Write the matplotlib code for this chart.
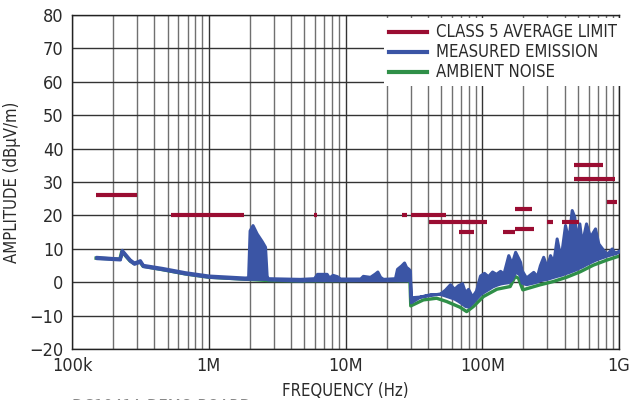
import matplotlib
matplotlib.use("Agg")
import matplotlib.pyplot as plt
from matplotlib.ticker import FixedLocator, NullFormatter
from matplotlib.lines import Line2D

plt.rcParams['font.family'] = ['DejaVu Sans']
plt.rcParams['font.stretch'] = 'condensed'

# ---- data ----
# CISPR class 5 average limit segments: start Hz, stop Hz, level dBuV/m
limit_start = [150e3, 530e3, 5.9e6, 26e6, 30e6, 41e6, 76e6, 68e6, 142e6, 174e6, 174e6, 300e6, 380e6, 470e6, 470e6, 820e6]
limit_stop  = [300e3, 1.8e6, 6.2e6, 28e6, 54e6, 88e6, 108e6, 87e6, 175e6, 241e6, 230e6, 330e6, 512e6, 770e6, 935e6, 960e6]
limit_level = [26, 20, 20, 20, 20, 18, 18, 15, 15, 16, 22, 18, 18, 35, 31, 24]

# measured emission (envelope of the sweep: upper / lower)
meas_freq = [150e3, 224e3, 231e3, 248e3, 265e3, 284e3, 314e3, 330e3, 453e3, 670e3, 1.0e6, 1.84e6,
             1.94e6, 1.99e6, 2.09e6, 2.24e6, 2.44e6, 2.58e6, 2.65e6, 2.7e6,
             4.65e6, 5.89e6, 6.19e6, 7.28e6, 7.57e6, 8.05e6, 8.66e6, 9.12e6, 12.8e6, 13.4e6, 15.1e6,
             16.4e6, 17.1e6, 17.9e6, 18.8e6, 23.0e6, 23.8e6, 25.5e6, 26.8e6, 27.7e6, 28.9e6, 29.6e6,
             30.0e6, 35.1e6, 41.5e6, 49.1e6, 53.5e6, 58.1e6, 62.2e6, 66.5e6, 71.1e6, 74.8e6, 78.7e6,
             84.2e6, 90e6, 96.3e6, 103e6, 110e6, 118e6, 126e6, 135e6, 143e6, 155e6, 164e6, 174e6,
             184e6, 189e6, 194e6, 209e6, 236e6, 251e6, 264e6, 279e6, 296e6, 313e6, 331e6, 350e6,
             366e6, 381e6, 403e6, 426e6, 451e6, 471e6, 491e6, 513e6, 534e6, 574e6, 614e6, 668e6,
             706e6, 768e6, 817e6, 885e6, 935e6, 1000e6]
meas_hi = [7.6, 7.1, 9.7, 8.2, 6.8, 5.9, 6.6, 5.2, 4.3, 3.0, 2.0, 1.4,
           1.5, 15.5, 17.1, 14.6, 12.3, 10.6, 2.0, 1.2,
           1.0, 1.2, 2.5, 2.5, 1.4, 2.2, 1.8, 1.1, 1.1, 1.9, 1.6,
           2.6, 3.2, 1.6, 1.0, 1.2, 4.0, 5.0, 5.9, 4.6, 4.0, 3.5,
           -4.5, -4.3, -3.8, -3.4, -2.2, -0.6, -2.0, -0.9, -0.3, -3.0, -2.0,
           -4.3, -2.5, 2.0, 2.8, 1.8, 3.2, 2.5, 3.4, 2.6, 8.1, 5.6, 9.1,
           7.1, 6.1, 3.6, 1.4, 3.1, 1.8, 5.1, 7.6, 4.6, 8.1, 6.1, 13.1,
           9.1, 9.6, 17.1, 12.6, 21.6, 19.6, 12.6, 17.6, 11.6, 17.6, 13.6, 16.1,
           11.6, 9.6, 8.5, 10.1, 8.6, 9.5]
meas_lo = [7.2, 6.8, 9.2, 7.8, 6.4, 5.5, 6.1, 4.8, 3.9, 2.6, 1.6, 1.0,
           1.0, 1.0, 1.0, 1.0, 1.0, 1.0, 1.0, 0.8,
           0.5, 0.6, 0.6, 0.6, 0.6, 0.6, 0.6, 0.6, 0.6, 0.6, 0.6,
           0.6, 0.6, 0.6, 0.6, 0.6, 0.6, 0.6, 0.6, 0.6, 0.6, 0.6,
           -6.0, -4.3, -3.6, -3.5, -4.0, -4.5, -4.9, -5.6, -6.4, -7.1, -7.3,
           -6.2, -4.9, -3.6, -2.8, -2.1, -1.3, -0.8, -0.4, -0.2, 0.0, 0.9, 3.1,
           2.6, 1.9, -0.1, -0.6, -0.1, 0.2, 0.6, 0.8, 1.0, 1.3, 1.6, 1.9,
           2.1, 2.3, 2.7, 3.0, 3.4, 3.7, 4.0, 4.4, 4.7, 5.4, 6.0, 6.7,
           7.1, 7.6, 8.0, 8.4, 8.8, 9.2]

# ambient noise
amb_freq = [150e3, 224e3, 231e3, 265e3, 284e3, 314e3, 330e3, 453e3, 670e3, 1.0e6, 1.84e6, 2.7e6,
            4.65e6, 10e6, 17e6, 23e6, 29.6e6, 30.0e6, 37.1e6, 46.4e6, 55e6, 68.8e6, 76.9e6, 86e6,
            102e6, 128e6, 160e6, 174e6, 184e6, 198e6, 264e6, 331e6, 415e6, 519e6, 649e6, 812e6, 1000e6]
amb_level = [7.2, 6.9, 9.2, 6.4, 5.6, 6.1, 4.8, 3.8, 2.5, 1.5, 0.9, 0.5,
             0.4, 0.5, 0.6, 0.5, 0.4, -7.1, -5.3, -4.8, -5.8, -7.5, -8.8, -7.3,
             -4.3, -2.1, -1.3, 1.7, 1.2, -2.3, -0.8, 0.2, 1.5, 3.1, 5.1, 6.6, 7.8]

x_ticks = [1e5, 1e6, 1e7, 1e8, 1e9]
x_labels = ['100k', '1M', '10M', '100M', '1G']
y_ticks = list(range(-20, 81, 10))

# ---- colours ----
c_limit = '#9a0d32'
c_meas = '#3b55a5'
c_amb = '#2f8f48'
c_text = '#2a2a2a'

fig = plt.figure(figsize=(6.39, 4.0), dpi=100)
ax = fig.add_axes([72/639, 1-349/400, (619-72)/639, (349-15)/400])

ax.set_xscale('log')
ax.set_xlim(1e5, 1e9)
ax.set_ylim(-20, 80)

# grid
minor = [m * 10**e for e in range(5, 9) for m in range(2, 10)]
ax.xaxis.set_minor_locator(FixedLocator(minor))
ax.xaxis.set_minor_formatter(NullFormatter())
ax.set_xticks(x_ticks)
ax.set_xticklabels(x_labels)
ax.set_yticks(y_ticks)
ax.grid(True, which='major', axis='both', color='#333333', lw=1.0, zorder=0)
ax.grid(True, which='minor', axis='x', color='#707070', lw=1.0, zorder=0)
ax.set_axisbelow(True)
ax.tick_params(which='both', length=0, pad=6, labelsize=13, colors=c_text)

# data
ax.plot(amb_freq, amb_level, color=c_amb, lw=2.4, zorder=2, solid_joinstyle='round')
ax.fill_between(meas_freq, meas_lo, meas_hi, color=c_meas, lw=2.2, edgecolor=c_meas, zorder=3)
for s, e, lv in zip(limit_start, limit_stop, limit_level):
    ax.plot([s, e], [lv, lv], color=c_limit, lw=3.0, solid_capstyle='butt', zorder=4)

for sp in ax.spines.values():
    sp.set_color('#222222')
    sp.set_linewidth(1.0)

ax.set_xlabel('FREQUENCY (Hz)', fontsize=12, color=c_text, labelpad=5)
ax.set_ylabel('AMPLITUDE (dBµV/m)', fontsize=12, color=c_text, labelpad=6)

# legend
handles = [Line2D([], [], color=c_limit, lw=3.0),
           Line2D([], [], color=c_meas, lw=3.0),
           Line2D([], [], color=c_amb, lw=3.0)]
labels = ['CLASS 5 AVERAGE LIMIT', 'MEASURED EMISSION', 'AMBIENT NOISE']
leg = ax.legend(handles, labels, loc='upper right', bbox_to_anchor=(1.006, 0.99),
                frameon=True, fancybox=False, framealpha=1.0, facecolor='white',
                edgecolor='none', fontsize=12, borderpad=0.3, borderaxespad=0.0,
                handlelength=2.3, handletextpad=0.55, labelspacing=0.12)
for t in leg.get_texts():
    t.set_color(c_text)
leg.set_zorder(5)

fig.text(72/639, 0.006, 'DC1941A DEMO BOARD', fontsize=12, color='#888888', va='top', ha='left')

fig.savefig('out.png', dpi=100)
